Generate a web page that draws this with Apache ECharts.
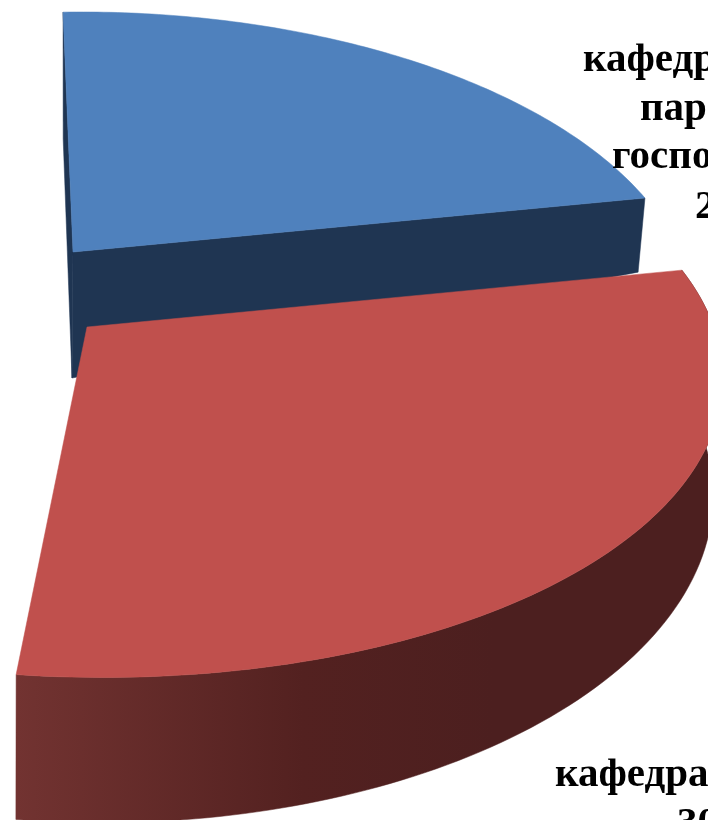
<!DOCTYPE html>
<html><head><meta charset="utf-8">
<style>html,body{margin:0;padding:0;background:#fff;overflow:hidden}#c{width:708px;height:820px}</style>
<script src="https://cdn.jsdelivr.net/npm/echarts@6/dist/echarts.min.js"></script>
</head><body><div id="c"></div>
<script>
const categories = ['кафедра партийного господства', 'кафедра'];
const shareValues = [22, 30];
const shareTotal = 100;
const firstAngle = -1;
const upperLabelLines = ['кафедра', 'пар', 'госпо', '22'];
const lowerLabelLines = ['кафедра', '30'];

const upperLabelX = [583, 640, 612, 695];
const upperLabelY = [72, 121, 169, 219];
const lowerLabelX = [555, 677];
const lowerLabelY = [787, 836];

// perspective planes: [ox, oy, A, C, D, B, q, p]
const bluePlane = [73,252,585.1474,1.6117,4.4472,285.4222,-0.0387,0.1894];
const redPlane = [87,327,626.0823,7.1643,2.7154,298.7627,-0.0025,0.1475];
const redLowPlane = [-17.3581,491.0901,558.9456,92.2375,-60.828,304.7367,-0.2131,0.0808];
const blueWall = {d0:126, da:-53, lean:-7};

const colors = {blueTop:'#4f81bd', blueSide:'#1f3552', redTop:'#c0504d'};
const redSide = new echarts.graphic.LinearGradient(16,0,700,0,[
  {offset:0,color:'#723331'},{offset:0.42,color:'#532120'},{offset:0.7,color:'#4c1f1f'},{offset:1,color:'#4c1f1f'}
],true);

function angleRange(i){
  let a = firstAngle;
  for(let k=0;k<i;k++) a += shareValues[k]/shareTotal*360;
  return [a, a + shareValues[i]/shareTotal*360];
}
function unit(deg){const t=deg*Math.PI/180;return [Math.sin(t),-Math.cos(t)];}
function project(g,X,Y){
  const [ox,oy,A,C,D,B,q,p]=g, w=1+q*X-p*Y;
  return [ox+(A*X+C*Y)/w, oy+(D*X+B*Y)/w];
}
function arc(g,a0,a1){
  const pts=[], n=100;
  for(let k=0;k<=n;k++){const u=unit(a0+(a1-a0)*k/n);pts.push(project(g,u[0],u[1]));}
  return pts;
}
function drop(g,deg){ // corner of the blue slice extruded downward
  const u=unit(deg), p=project(g,u[0],u[1]);
  return [p[0]+blueWall.lean*u[0], p[1]+blueWall.d0+blueWall.da*u[0]];
}
function renderItem(params){
  const i = params.dataIndex;
  const [a0,a1] = angleRange(i);
  const kids = [];
  const poly = (points,fill)=>kids.push({type:'polygon',shape:{points},style:{fill,stroke:fill,lineWidth:0.5}});
  if(i===0){
    const apex=project(bluePlane,0,0), low=[apex[0]-1,apex[1]+blueWall.d0];
    const s=project(bluePlane,...unit(a0)), e=project(bluePlane,...unit(a1));
    poly([s,apex,low,drop(bluePlane,a0)],colors.blueSide);
    poly([apex,e,drop(bluePlane,a1),low],colors.blueSide);
    poly([apex].concat(arc(bluePlane,a0,a1)),colors.blueTop);
  } else {
    poly(arc(redPlane,a0,a1).concat(arc(redLowPlane,a0,a1).reverse()),redSide);
    poly([project(redPlane,0,0)].concat(arc(redPlane,a0,a1)),colors.redTop);
  }
  return {type:'group',children:kids};
}
function textEls(lines,xs,ys){
  return lines.map((t,i)=>({type:'text',x:xs[i],y:ys[i]+9,silent:true,z:10,
    style:{text:t,fill:'#000',font:'bold 41px "Liberation Serif"',textAlign:'left',textVerticalAlign:'bottom'}}));
}
const chart = echarts.init(document.getElementById('c'),null,{renderer:'canvas'});
chart.setOption({
  animation:false,
  backgroundColor:'#fff',
  series:[{type:'custom',coordinateSystem:'none',silent:true,renderItem,
    data:shareValues.map((v,i)=>({name:categories[i],value:v}))}],
  graphic:textEls(upperLabelLines,upperLabelX,upperLabelY).concat(textEls(lowerLabelLines,lowerLabelX,lowerLabelY))
});
</script></body></html>
